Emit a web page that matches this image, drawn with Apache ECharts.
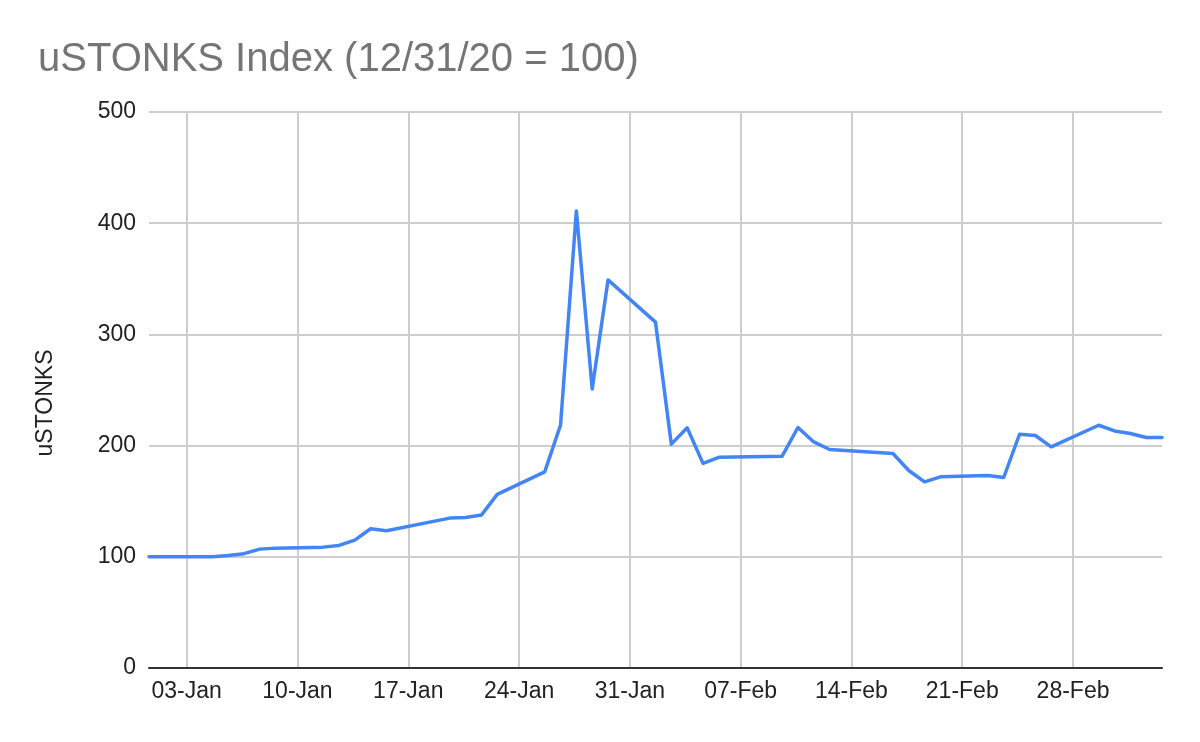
<!DOCTYPE html>
<html>
<head>
<meta charset="utf-8">
<script src="https://cdn.jsdelivr.net/npm/echarts@6/dist/echarts.min.js"></script>
<style>
html,body{margin:0;padding:0;background:#fff;}
#chart{width:1200px;height:742px;}
</style>
</head>
<body>
<div id="chart"></div>
<script>
// Days since 12/31/20 for each trading day
const days = [0,4,5,6,7,8,11,12,13,14,15,19,20,21,22,25,26,27,28,29,32,33,34,35,36,39,40,41,42,43,47,48,49,50,53,54,55,56,57,60,61,62,63,64];
// uSTONKS index values
const values = [100,100,101.1,102.8,106.9,107.8,108.7,110.2,115,125.2,123.4,134.8,135.4,137.5,156.1,176.4,218.5,411,251,349,311,201.3,216,184,189.5,190.3,190.5,216.3,203.3,196.5,192.9,177.6,167.4,171.9,173.1,171.3,210.2,209.1,198.9,218.3,213.2,210.9,207.3,207.3];
// x-axis tick labels and their positions (days since 12/31/20)
const tickLabels = ['03-Jan','10-Jan','17-Jan','24-Jan','31-Jan','07-Feb','14-Feb','21-Feb','28-Feb'];
const tickDays = [2.38,9.38,16.38,23.38,30.38,37.38,44.38,51.38,58.38];

const FONT = '"Liberation Sans", Arial, sans-serif';
const chart = echarts.init(document.getElementById('chart'), null, {renderer:'canvas'});
const points = days.map((d,i)=>[d, values[i]]);

chart.setOption({
  animation:false,
  backgroundColor:'#ffffff',
  title:{
    text:'uSTONKS Index (12/31/20 = 100)',
    left:33, top:35,
    textStyle:{fontFamily:FONT, fontSize:40, fontWeight:'normal', color:'#757575'}
  },
  grid:{left:149, right:38, top:112, bottom:74, containLabel:false},
  xAxis:{
    type:'value', min:0, max:64,
    axisLine:{show:true, lineStyle:{color:'#333333', width:2}},
    axisTick:{show:false, customValues:tickDays},
    axisLabel:{
      customValues:tickDays,
      margin:12,
      fontFamily:FONT, fontSize:23, color:'#222222',
      formatter:function(v){
        let best=0, bd=1e9;
        tickDays.forEach((t,i)=>{const d=Math.abs(t-v); if(d<bd){bd=d;best=i;}});
        return tickLabels[best];
      }
    },
    splitLine:{show:true, lineStyle:{color:'#cdcdcd', width:2}}
  },
  yAxis:{
    type:'value', min:0, max:500, interval:100,
    name:'uSTONKS', nameLocation:'middle', nameRotate:90, nameGap:92,
    nameTextStyle:{fontFamily:FONT, fontSize:23, color:'#222222', padding:[0,26,0,0]},
    axisLine:{show:false},
    axisTick:{show:false},
    axisLabel:{margin:13, fontFamily:FONT, fontSize:23, color:'#222222'},
    splitLine:{show:true, lineStyle:{color:'#cdcdcd', width:2}}
  },
  series:[{
    type:'line',
    data:points,
    showSymbol:false,
    symbol:'none',
    smooth:false,
    lineStyle:{color:'#4285F4', width:3.5, join:'round', cap:'round'},
    z:3
  }]
});
</script>
</body>
</html>
